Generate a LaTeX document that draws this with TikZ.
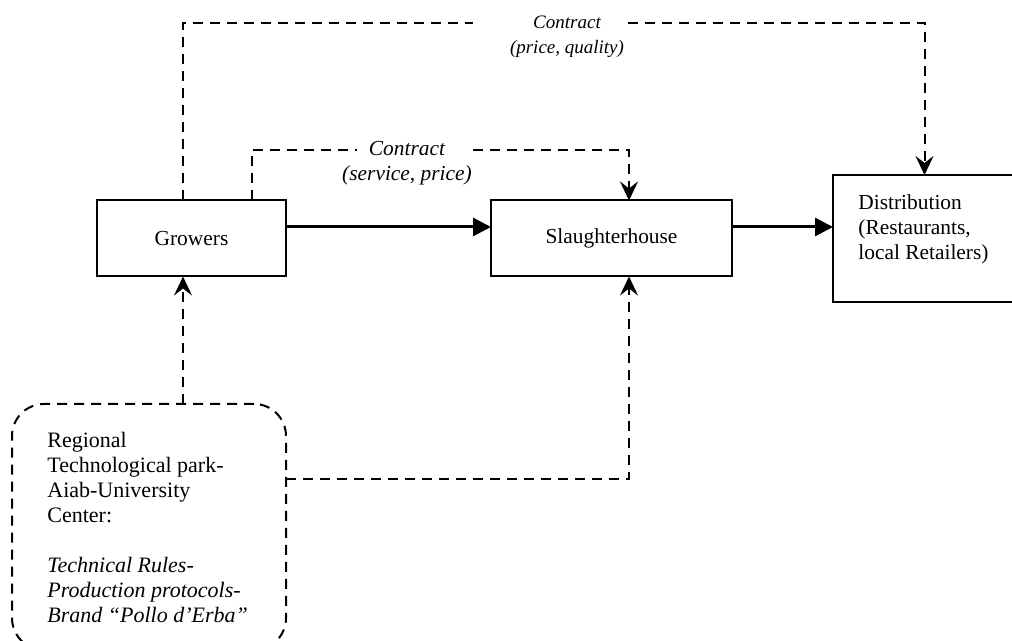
\documentclass[tikz,border=0pt]{standalone}
\usepackage{fontspec}
\setmainfont{Liberation Serif}
\usetikzlibrary{arrows.meta}

\begin{document}
\begin{tikzpicture}[x=0.5pt,y=-0.5pt,
	box/.style={draw, line width=1pt, inner sep=0pt, outer sep=0pt, font=\fontsize{10.7}{12.5}\selectfont},
	link/.style={line width=1pt, dash pattern=on 5pt off 3.5pt},
	flow/.style={line width=1.5pt, -{Triangle[length=9pt,width=9pt]}},
	tip/.style={-{Stealth[length=9.5pt,width=9pt,inset=3.5pt]}},
	txt/.style={anchor=north west, align=left, inner sep=0pt, font=\fontsize{10.7}{12.5}\selectfont},
	clab/.style={align=center, inner sep=0pt, font=\itshape\fontsize{10}{12.5}\selectfont}]
		\useasboundingbox (0,0) rectangle (1012,641);
		% boxes
		\node[box, minimum width=94.5pt, minimum height=38pt] (gr) at (191.5,238.5) {Growers};
		\node[box, minimum width=120.5pt, minimum height=38pt] (sl) at (611.5,238.5) {Slaughterhouse};
		\node[box, minimum width=91.5pt, minimum height=63.5pt] (dist) at (924.5,238.5) {};
		\node[txt] (disttxt) at (858,194) {Distribution\\(Restaurants,\\local Retailers)};
		\node[draw, link, rounded corners=16pt, minimum width=137pt, minimum height=123pt, inner sep=0pt, outer sep=0pt] (park) at (149,527) {};
		\node[txt, font=\fontsize{11}{12.5}\selectfont] (parktxt) at (47,432) {Regional\\Technological park-\\Aiab-University\\Center:\\[12.5pt]\textit{Technical Rules-}\\\textit{Production protocols-}\\\textit{Brand “Pollo d’Erba”}};
		% contract labels
		\node[clab, font=\itshape\fontsize{9.5}{12.5}\selectfont] (c1) at (567,37) {Contract\\(price, quality)};
		\node[clab, font=\itshape\fontsize{10.7}{12.5}\selectfont] (c2) at (407,163) {Contract\\(service, price)};
		\coordinate (xa) at (183,0);
		\coordinate (xb) at (252,0);
		\coordinate (xc) at (629,0);
		\coordinate (ym) at (0,227);
		\coordinate (yp) at (0,479);
		\coordinate (c1w) at (473,23);
		\coordinate (c1e) at (628,23);
		\coordinate (c2w) at (357,150);
		\coordinate (c2e) at (473,150);
		% material flow
		\draw[flow] (gr.east |- ym) -- (sl.west |- ym);
		\draw[flow] (sl.east |- ym) -- (dist.west |- ym);
		% contracts
		\draw[link] (gr.north -| xa) |- (c1w);
		\draw[link, tip] (c1e) -| (dist.north);
		\draw[link] (gr.north -| xb) |- (c2w);
		\draw[link, tip] (c2e) -| (sl.north -| xc);
		% support
		\draw[link, tip] (park.north -| xa) -- (gr.south -| xa);
		\draw[link, tip] (park.east |- yp) -| (sl.south -| xc);
	\end{tikzpicture}
\end{document}
